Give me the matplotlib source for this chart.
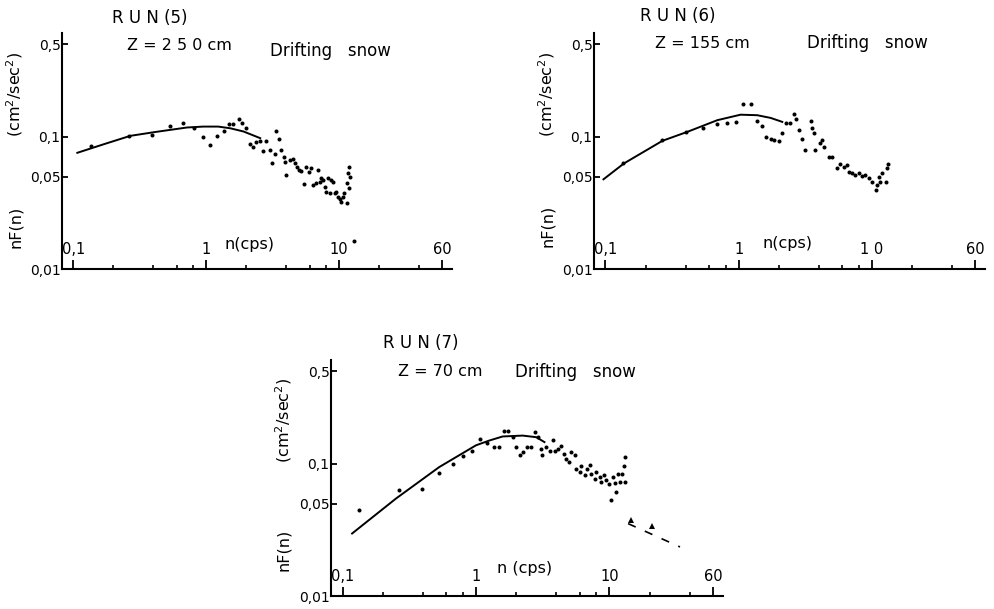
import numpy as np
import matplotlib
matplotlib.use("Agg")
import matplotlib.pyplot as plt
from matplotlib.ticker import FixedLocator, NullLocator

plt.rcParams['font.family'] = ['DejaVu Sans']

# ---- datos (n en cps, nF(n) en cm2/sec2) ----
# RUN 5, Z = 250 cm
n5 = [0.136, 0.264, 0.392, 0.535, 0.667, 0.803, 0.944, 1.06, 1.20, 1.35, 1.48, 1.59,
      1.76, 1.87, 1.98, 2.12, 2.25, 2.38, 2.52, 2.67, 2.83, 3.00, 3.14, 3.27, 3.37,
      3.53, 3.67, 3.83, 4.01, 3.89, 4.25, 4.50, 4.63, 4.82, 4.99, 5.20, 5.42, 5.67,
      5.94, 6.18, 6.37, 6.67, 6.95, 7.15, 7.36, 7.57, 7.80, 8.03, 8.27, 8.51, 8.75,
      9.01, 9.27, 9.55, 9.83, 10.1, 10.4, 10.7, 11.0, 11.4, 11.7, 11.9, 12.0, 12.2,
      11.4, 12.9]
v5 = [0.0855, 0.101, 0.104, 0.1217, 0.128, 0.1175, 0.099, 0.086, 0.101, 0.110, 0.124,
      0.124, 0.137, 0.128, 0.117, 0.089, 0.084, 0.0917, 0.093, 0.0784, 0.093, 0.079,
      0.063, 0.074, 0.111, 0.0955, 0.080, 0.0706, 0.0514, 0.0648, 0.0667, 0.0675,
      0.063, 0.0594, 0.0561, 0.0555, 0.0437, 0.0594, 0.0545, 0.0577, 0.0432, 0.0445,
      0.0561, 0.0458, 0.0485, 0.0471, 0.042, 0.0385, 0.0485, 0.0374, 0.0471, 0.0458,
      0.0374, 0.0385, 0.0353, 0.0337, 0.0324, 0.0353, 0.0374, 0.0445, 0.053, 0.0408,
      0.0594, 0.0499, 0.0314, 0.0162]
n5_curva = [0.107, 0.17, 0.268, 0.42, 0.716, 0.95, 1.23, 1.52, 1.91, 2.55]
v5_curva = [0.0757, 0.088, 0.1017, 0.109, 0.1176, 0.1195, 0.1195, 0.116, 0.1097, 0.0977]

# RUN 6, Z = 155 cm
n6 = [0.136, 0.268, 0.40, 0.54, 0.684, 0.813, 0.955, 1.08, 1.23, 1.38, 1.51, 1.62,
      1.74, 1.86, 2.01, 2.13, 2.29, 2.45, 2.60, 2.69, 2.84, 3.0, 3.13, 3.47, 3.57,
      3.67, 3.78, 4.07, 4.24, 4.42, 4.76, 5.04, 5.50, 5.82, 6.17, 6.53, 6.72, 7.12,
      7.54, 8.0, 8.46, 8.97, 9.5, 10.07, 10.7, 11.0, 11.3, 11.6, 12.0, 12.7, 13.0, 13.2]
v6 = [0.063, 0.0944, 0.108, 0.1156, 0.126, 0.127, 0.130, 0.176, 0.176, 0.132, 0.121,
      0.100, 0.0955, 0.0944, 0.093, 0.106, 0.127, 0.127, 0.150, 0.137, 0.1135, 0.097,
      0.080, 0.132, 0.1175, 0.107, 0.080, 0.090, 0.0944, 0.084, 0.0706, 0.0706, 0.0577,
      0.0622, 0.0594, 0.061, 0.0545, 0.053, 0.0514, 0.053, 0.0506, 0.0514, 0.0485,
      0.0458, 0.0397, 0.0432, 0.050, 0.0458, 0.053, 0.0458, 0.0577, 0.0628]
n6_curva = [0.0966, 0.138, 0.268, 0.412, 0.692, 1.035, 1.38, 1.74, 2.13]
v6_curva = [0.0477, 0.063, 0.0933, 0.109, 0.1336, 0.147, 0.1457, 0.139, 0.1297]

# RUN 7, Z = 70 cm
n7 = [0.133, 0.265, 0.397, 0.53, 0.676, 0.794, 0.933, 1.07, 1.21, 1.37, 1.48, 1.61,
      1.73, 1.89, 1.98, 2.14, 2.27, 2.40, 2.59, 2.79, 2.92, 3.08, 3.14, 3.36, 3.56,
      3.77, 3.88, 4.11, 4.35, 4.54, 4.75, 4.97, 5.18, 5.49, 5.65, 5.98, 6.15, 6.53,
      6.79, 7.11, 7.32, 7.76, 7.99, 8.46, 8.71, 9.06, 9.49, 9.93, 10.35, 10.7, 10.97,
      11.3, 11.6, 11.96, 12.5, 12.8, 13.0, 13.2]
v7 = [0.0445, 0.063, 0.0648, 0.085, 0.099, 0.115, 0.1245, 0.154, 0.143, 0.134, 0.134,
      0.176, 0.176, 0.159, 0.134, 0.1156, 0.122, 0.135, 0.135, 0.173, 0.159, 0.1297,
      0.1156, 0.134, 0.126, 0.152, 0.126, 0.1297, 0.137, 0.119, 0.109, 0.103, 0.122,
      0.1176, 0.0917, 0.0865, 0.0955, 0.0817, 0.0917, 0.098, 0.084, 0.077, 0.0865,
      0.080, 0.0728, 0.083, 0.075, 0.0698, 0.0535, 0.079, 0.0715, 0.061, 0.084, 0.0728,
      0.084, 0.097, 0.0728, 0.112]
n7_curva = [0.118, 0.251, 0.53, 1.0, 1.26, 1.585, 2.24, 2.83, 3.26]
v7_curva = [0.0297, 0.0545, 0.0944, 0.138, 0.150, 0.161, 0.1635, 0.159, 0.146]
n7_tri = [14.6, 21.0]
v7_tri = [0.0374, 0.0337]
n7_trazos = [13.8, 33.8]
v7_trazos = [0.0353, 0.0235]

# ejes y etiquetas
xticks_mayor = [0.1, 1, 10, 60]
xticks_menor = [0.2, 0.4, 0.6, 0.8, 2, 4, 6, 8, 20, 40]
yticks = [0.01, 0.05, 0.1, 0.5]
yticks_txt = ['0,01', '0,05', '0,1', '0,5']

W, H = 994, 609
fig = plt.figure(figsize=(W / 100, H / 100), dpi=100)


def px(x, y):
    # de pixeles de la figura a fraccion
    return x / W, 1 - y / H


def panel(rect, xlabs, ylabel_x, ylabel_y1, ylabel_y2, ncps_xy, ncps_txt):
    ax = fig.add_axes(rect)
    ax.set_xscale('log')
    ax.set_yscale('log')
    ax.set_xlim(0.082, 71)
    ax.set_ylim(0.01, 0.61)
    for s in ['top', 'right']:
        ax.spines[s].set_visible(False)
    for s in ['left', 'bottom']:
        ax.spines[s].set_linewidth(1.5)
    ax.xaxis.set_major_locator(FixedLocator(xticks_mayor))
    ax.xaxis.set_minor_locator(FixedLocator(xticks_menor))
    ax.set_xticklabels([])
    ax.xaxis.set_minor_formatter(plt.NullFormatter())
    ax.tick_params(axis='x', which='major', direction='in', length=6.5, width=1.3)
    ax.tick_params(axis='x', which='minor', direction='in', length=3, width=1.2)
    ax.yaxis.set_major_locator(FixedLocator(yticks))
    ax.yaxis.set_minor_locator(NullLocator())
    ax.set_yticklabels(yticks_txt)
    ax.tick_params(axis='y', direction='in', length=4, width=1.3, pad=1, labelsize=10)
    # etiquetas del eje x dentro de la grafica
    for v, t in zip(xticks_mayor, xlabs):
        ax.text(v, 0.05, t, transform=ax.get_xaxis_transform(), ha='center', va='bottom',
                fontsize=10.5)
    fig.text(*px(*ncps_xy), ncps_txt, ha='center', va='center', fontsize=11.5)
    fig.text(*px(ylabel_x, ylabel_y1), '(cm$^2$/sec$^2$)', rotation=90, ha='center',
             va='center', fontsize=11.5)
    fig.text(*px(ylabel_x, ylabel_y2), 'nF(n)', rotation=90, ha='center', va='center',
             fontsize=11.5)
    return ax


# RUN 5
ax1 = panel([62 / W, 1 - 269 / H, 390 / W, 236 / H], ['0,1', '1', '10', '60'],
            15, 94, 227, (250, 244), 'n(cps)')
ax1.plot(n5_curva, v5_curva, color='black', lw=1.4)
ax1.plot(n5, v5, 'o', color='black', ms=2.9, mew=0)
fig.text(*px(112, 18), 'R U N (5)', ha='left', va='center', fontsize=12)
fig.text(*px(127, 46), 'Z = 2 5 0 cm', ha='left', va='center', fontsize=11.5)
fig.text(*px(270, 51), 'Drifting   snow', ha='left', va='center', fontsize=12)

# RUN 6
ax2 = panel([594 / W, 1 - 269 / H, 391 / W, 236 / H], ['0,1', '1', '1 0', '60'],
            547, 94, 226, (788, 243), 'n(cps)')
ax2.plot(n6_curva, v6_curva, color='black', lw=1.4)
ax2.plot(n6, v6, 'o', color='black', ms=2.9, mew=0)
fig.text(*px(640, 16), 'R U N (6)', ha='left', va='center', fontsize=12)
fig.text(*px(655, 44), 'Z = 155 cm', ha='left', va='center', fontsize=11.5)
fig.text(*px(807, 43), 'Drifting   snow', ha='left', va='center', fontsize=12)

# RUN 7
ax3 = panel([331 / W, 1 - 596 / H, 392 / W, 236 / H], ['0,1', '1', '10', '60'],
            284, 420, 550, (525, 568), 'n (cps)')
ax3.plot(n7_curva, v7_curva, color='black', lw=1.4)
ax3.plot(n7_trazos, v7_trazos, color='black', lw=1.2, dashes=(5, 6))
ax3.plot(n7, v7, 'o', color='black', ms=2.9, mew=0)
ax3.plot(n7_tri, v7_tri, '^', color='black', ms=5, mew=0)
fig.text(*px(383, 343), 'R U N (7)', ha='left', va='center', fontsize=12)
fig.text(*px(398, 372), 'Z = 70 cm', ha='left', va='center', fontsize=11.5)
fig.text(*px(515, 372), 'Drifting   snow', ha='left', va='center', fontsize=12)

fig.savefig('out.png', dpi=100, facecolor='white')
